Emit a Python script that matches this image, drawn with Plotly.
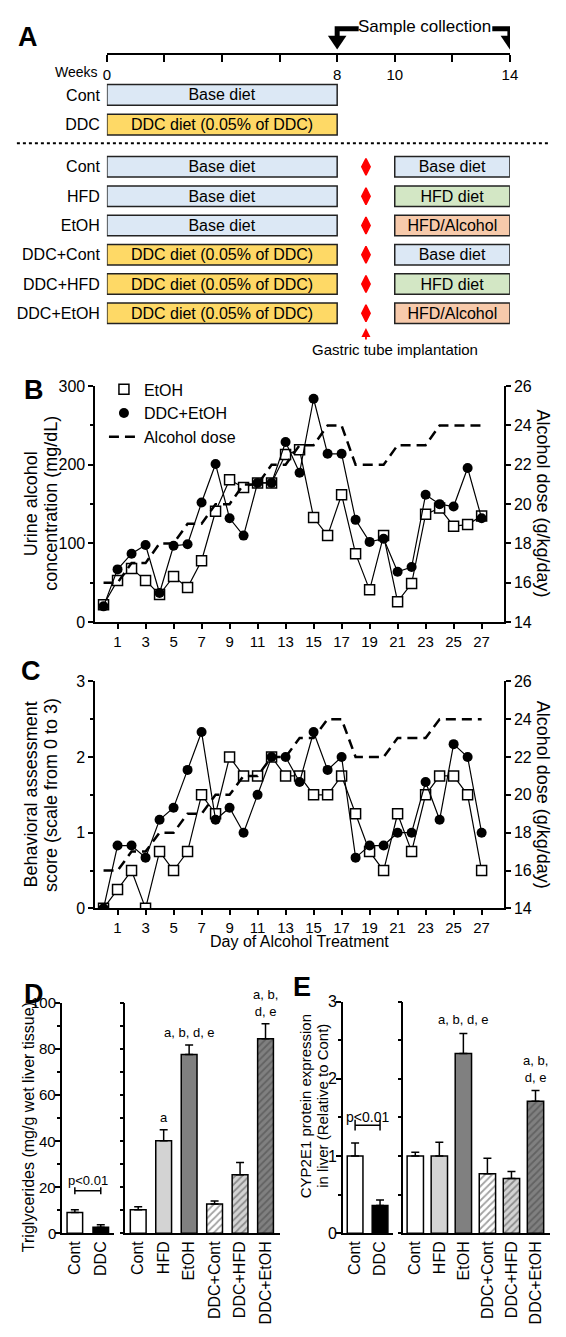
import plotly.graph_objects as go

PAGE_W, PAGE_H = 566, 1337
OFF = 8  # default page margin around the plot
W, H = PAGE_W - 2 * OFF, PAGE_H - 2 * OFF
FONT = "Liberation Sans, Arial, Helvetica, sans-serif"


def fx(px):
    return min(max((px - OFF) / W, 0), 1)


def fy(py):
    return min(max(1 - (py - OFF) / H, 0), 1)


# ---------------- Panel A data ----------------
week_ticks = [0, 2, 4, 6, 8, 10, 12, 14]
week_ticktext = ["0", "", "", "", "8", "10", "", "14"]
sample_weeks = [8, 14]
phase1_weeks = [0, 8]
phase2_weeks = [10, 14]
gastric_week = 9

a_top_groups = ["Cont", "DDC"]
a_top_diets = ["Base diet", "DDC diet (0.05% of DDC)"]
a_groups = ["Cont", "HFD", "EtOH", "DDC+Cont", "DDC+HFD", "DDC+EtOH"]
a_phase1_diets = ["Base diet", "Base diet", "Base diet",
                  "DDC diet (0.05% of DDC)", "DDC diet (0.05% of DDC)", "DDC diet (0.05% of DDC)"]
a_phase2_diets = ["Base diet", "HFD diet", "HFD/Alcohol", "Base diet", "HFD diet", "HFD/Alcohol"]
diet_colors = {"Base diet": "#dce8f5", "DDC diet (0.05% of DDC)": "#fed966",
               "HFD diet": "#d3e7c5", "HFD/Alcohol": "#f7caab"}

# ---------------- Panel B / C data ----------------
days = list(range(28))
day_ticks = list(range(1, 28, 2))
b_etoh = [22, 53, 68, 53, 35, 58, 44, 78, 141, 181, 171, 177, 177, 213, 219, 133, 110, 162,
          87, 41, 110, 26, 49, 137, 145, 122, 124, 135]
b_ddc_etoh = [20, 67, 87, 98, 37, 97, 99, 152, 201, 132, 110, 177, 177, 229, 190, 284, 214, 214,
              130, 102, 106, 64, 70, 162, 150, 147, 196, 132]
alcohol_dose = [16, 16, 17, 17, 18, 18, 19, 19, 20, 20, 21, 21, 22, 22, 23, 23, 24, 24,
                22, 22, 22, 23, 23, 23, 24, 24, 24, 24]
c_etoh = [0, 0.25, 0.5, 0, 0.75, 0.5, 0.75, 1.5, 1.25, 2.0, 1.75, 1.75, 2.0, 1.75, 1.75, 1.5, 1.5,
          1.75, 1.25, 0.75, 0.5, 1.25, 0.75, 1.5, 1.75, 1.75, 1.5, 0.5]
c_ddc_etoh = [0, 0.83, 0.83, 0.67, 1.17, 1.33, 1.83, 2.33, 1.17, 1.33, 1.0, 1.5, 2.0, 2.0, 1.67,
              2.33, 1.83, 2.0, 0.67, 0.83, 0.83, 1.0, 1.0, 1.67, 1.17, 2.17, 2.0, 1.0]

# ---------------- Panel D / E data ----------------
left_groups = ["Cont", "DDC"]
left_colors = ["white", "black"]
right_groups = ["Cont", "HFD", "EtOH", "DDC+Cont", "DDC+HFD", "DDC+EtOH"]
right_colors = ["white", "#d3d3d3", "#808080", "white", "#d3d3d3", "#808080"]
right_patterns = ["", "", "", "/", "/", "/"]

d_ticks = [0, 20, 40, 60, 80, 100]
d_left_mean = [9.0, 2.6]
d_left_err = [1.1, 1.0]
d_right_mean = [10.1, 40.1, 77.6, 12.6, 25.3, 84.4]
d_right_err = [1.3, 4.8, 4.1, 1.4, 5.4, 6.5]
d_right_sig = ["", "a", "a, b, d, e", "", "", "a, b,<br>d, e"]

e_ticks = [0, 1, 2, 3]
e_left_mean = [1.0, 0.36]
e_left_err = [0.17, 0.07]
e_right_mean = [1.0, 1.0, 2.33, 0.77, 0.71, 1.71]
e_right_err = [0.05, 0.18, 0.26, 0.20, 0.09, 0.14]
e_right_sig = ["", "", "a, b, d, e", "", "", "a, b,<br>d, e"]

fig = go.Figure()

# ---------------- Panel A ----------------
def diet_bar(groups, diets, weeks, xa, ya):
    n = len(groups)
    return go.Bar(
        orientation="h", y=groups, x=[weeks[1] - weeks[0]] * n, base=[weeks[0]] * n, width=0.7,
        marker=dict(color=[diet_colors[d] for d in diets], line=dict(color="#222", width=1.5)),
        text=diets, textposition="inside", insidetextanchor="middle", textangle=0,
        constraintext="none", textfont=dict(size=16, color="black", family=FONT),
        hoverinfo="skip", showlegend=False, xaxis=xa, yaxis=ya)


fig.add_trace(diet_bar(a_top_groups, a_top_diets, phase1_weeks, "x", "y"))
fig.add_trace(diet_bar(a_groups, a_phase1_diets, phase1_weeks, "x2", "y2"))
fig.add_trace(diet_bar(a_groups, a_phase2_diets, phase2_weeks, "x2", "y2"))

fig.add_trace(go.Scatter(
    x=[gastric_week] * len(a_groups), y=a_groups, mode="markers",
    marker=dict(symbol="diamond-tall", size=12, color="#ff0000", line=dict(color="#ff0000", width=1.5)),
    hoverinfo="skip", showlegend=False, xaxis="x2", yaxis="y2"))

# timeline axis carrier
fig.add_trace(go.Scatter(x=week_ticks, y=[0] * len(week_ticks), mode="markers",
                         marker=dict(size=1, opacity=0), hoverinfo="skip", showlegend=False,
                         xaxis="x3", yaxis="y3"))

# ---------------- Panel B ----------------
sq_marker = dict(symbol="square", size=10, color="white", line=dict(color="black", width=1.5))
ci_marker = dict(symbol="circle", size=10, color="black")
dose_line = dict(color="black", width=2.5, dash="10px,6px")

fig.add_trace(go.Scatter(x=days, y=b_etoh, mode="lines+markers", line=dict(color="black", width=1.2),
                         marker=sq_marker, showlegend=False, xaxis="x4", yaxis="y4"))
fig.add_trace(go.Scatter(x=days, y=b_ddc_etoh, mode="lines+markers", line=dict(color="black", width=1.2),
                         marker=ci_marker, showlegend=False, xaxis="x4", yaxis="y4"))
fig.add_trace(go.Scatter(x=[None], y=[None], mode="markers", name="EtOH", legendrank=1,
                         marker=sq_marker, xaxis="x4", yaxis="y4"))
fig.add_trace(go.Scatter(x=[None], y=[None], mode="markers", name="DDC+EtOH", legendrank=2,
                         marker=ci_marker, xaxis="x4", yaxis="y4"))
fig.add_trace(go.Scatter(x=days, y=alcohol_dose, mode="lines", name="Alcohol dose", legendrank=3,
                         line=dose_line, xaxis="x4", yaxis="y5"))

# ---------------- Panel C ----------------
fig.add_trace(go.Scatter(x=days, y=c_etoh, mode="lines+markers", line=dict(color="black", width=1.2),
                         marker=sq_marker, showlegend=False, xaxis="x5", yaxis="y6"))
fig.add_trace(go.Scatter(x=days, y=c_ddc_etoh, mode="lines+markers", line=dict(color="black", width=1.2),
                         marker=ci_marker, showlegend=False, xaxis="x5", yaxis="y6"))
fig.add_trace(go.Scatter(x=days, y=alcohol_dose, mode="lines", showlegend=False,
                         line=dose_line, xaxis="x5", yaxis="y7"))


# ---------------- Panels D / E bars ----------------
def bar(groups, means, errs, colors, patterns, width, xa, ya):
    return go.Bar(
        x=groups, y=means, width=width,
        error_y=dict(type="data", array=errs, arrayminus=[0] * len(errs), symmetric=False,
                     color="black", thickness=1.5, width=4),
        marker=dict(color=colors, line=dict(color="black", width=1.5),
                    pattern=dict(shape=patterns, fgcolor="black", fillmode="overlay",
                                 size=5, solidity=0.35)),
        hoverinfo="skip", showlegend=False, xaxis=xa, yaxis=ya)


fig.add_trace(bar(left_groups, d_left_mean, d_left_err, left_colors, ["", ""], 0.6, "x6", "y8"))
fig.add_trace(bar(right_groups, d_right_mean, d_right_err, right_colors, right_patterns, 0.62, "x7", "y9"))
fig.add_trace(bar(left_groups, e_left_mean, e_left_err, left_colors, ["", ""], 0.63, "x8", "y10"))
fig.add_trace(bar(right_groups, e_right_mean, e_right_err, right_colors, right_patterns, 0.68, "x9", "y11"))

# ---------------- Axes ----------------
base_ax = dict(showline=True, linecolor="black", linewidth=1.5, ticks="outside", tickcolor="black",
               tickwidth=1.5, ticklen=5, showgrid=False, zeroline=False,
               tickfont=dict(size=16, color="black", family=FONT))
cat_y = dict(type="category", showline=False, ticks="", showgrid=False, zeroline=False,
             ticklabelstandoff=6, tickfont=dict(size=16, color="black", family=FONT))


def with_font(d, size):
    return {**d, "tickfont": dict(size=size, color="black", family=FONT)}


def minor_ticks(vals):
    return dict(tickvals=vals, ticks="outside", ticklen=3, tickcolor="black")


bc_x_dom = [fx(93), fx(511)]
fig.update_layout(
    xaxis=dict(domain=[fx(105), fx(517)], range=[0, 14], visible=False, anchor="y"),
    yaxis=dict(domain=[fy(133), fy(73)], anchor="x", categoryorder="array",
               categoryarray=a_top_groups, range=[1.5, -0.5], **cat_y),
    xaxis2=dict(domain=[fx(105), fx(517)], range=[0, 14], visible=False, anchor="y2"),
    yaxis2=dict(domain=[fy(324), fy(146)], anchor="x2", categoryorder="array",
                categoryarray=a_groups, range=[5.5, -0.5], **cat_y),
    xaxis3=dict(domain=[fx(105), fx(517)], range=[0, 14], anchor="y3",
                showline=True, linecolor="black", linewidth=2, ticks="outside", ticklen=7,
                tickwidth=2, tickcolor="black", tickvals=week_ticks, ticktext=week_ticktext,
                showgrid=False, zeroline=False, tickfont=dict(size=15, color="black", family=FONT)),
    yaxis3=dict(domain=[fy(45), fy(44)], anchor="x3", visible=False, range=[0, 1]),

    xaxis4=dict(domain=bc_x_dom, range=[-0.6, 28.6], anchor="y4", tickvals=day_ticks,
                **with_font(base_ax, 15)),
    yaxis4=dict(domain=[fy(622), fy(383)], range=[0, 300], anchor="x4", tickvals=[0, 100, 200, 300],
                minor=minor_ticks([50, 150, 250]), **base_ax),
    yaxis5=dict(overlaying="y4", side="right", anchor="x4", range=[14, 26], dtick=2, **base_ax),

    xaxis5=dict(domain=bc_x_dom, range=[-0.6, 28.6], anchor="y6", tickvals=day_ticks,
                **with_font(base_ax, 15)),
    yaxis6=dict(domain=[fy(912), fy(682)], range=[0, 3], anchor="x5", tickvals=[0, 1, 2, 3],
                minor=minor_ticks([0.5, 1.5, 2.5]), **base_ax),
    yaxis7=dict(overlaying="y6", side="right", anchor="x5", range=[14, 26], dtick=2, **base_ax),

    # panel D
    xaxis6=dict(domain=[fx(59), fx(112)], anchor="y8", tickangle=-90, **{**base_ax, "ticks": ""}),
    yaxis8=dict(domain=[fy(1241), fy(1007.7)], range=[0, 100], anchor="x6",
                tickvals=d_ticks, minor=minor_ticks([10, 30, 50, 70, 90]),
                **{**base_ax, "showticklabels": False}),
    xaxis7=dict(domain=[fx(124), fx(282)], anchor="y9", tickangle=-90, **{**base_ax, "ticks": ""}),
    yaxis9=dict(domain=[fy(1241), fy(1007.7)], range=[0, 100], anchor="x7", dtick=10,
                **{**base_ax, "ticklen": 4, "showticklabels": False}),

    # panel E
    xaxis8=dict(domain=[fx(346), fx(397)], anchor="y10", tickangle=-90, **{**base_ax, "ticks": ""}),
    yaxis10=dict(domain=[fy(1241), fy(1006.7)], range=[0, 3], anchor="x8",
                 tickvals=e_ticks, minor=minor_ticks([0.5, 1.5, 2.5]),
                 **{**base_ax, "showticklabels": False}),
    xaxis9=dict(domain=[fx(408), fx(562)], anchor="y11", tickangle=-90, **{**base_ax, "ticks": ""}),
    yaxis11=dict(domain=[fy(1241), fy(1006.7)], range=[0, 3], anchor="x9", dtick=0.5,
                 **{**base_ax, "ticklen": 4, "showticklabels": False}),
)

# ---------------- Shapes ----------------
shapes = []
shapes.append(dict(type="line", xref="paper", yref="paper", x0=fx(13), x1=fx(566), y0=fy(137), y1=fy(137),
                   line=dict(color="black", width=2, dash="dot")))
px_per_week = (517 - 105) / 14
for wk, direction in zip(sample_weeks, [1, -1]):
    bar_len = (22 if direction == 1 else 18) / px_per_week
    x_start = wk + direction * bar_len
    shapes.append(dict(type="path", xref="x3", yref="paper",
                       path=f"M {x_start},{fy(21)} L {wk},{fy(21)} L {wk},{fy(31)}",
                       line=dict(color="black", width=5)))
    hw = 9.5 / px_per_week
    shapes.append(dict(type="path", xref="x3", yref="paper",
                       path=f"M {wk - hw},{fy(28)} L {wk + hw},{fy(28)} L {wk},{fy(42)} Z",
                       fillcolor="black", line=dict(width=0)))


def bracket(xa, ya, yv, cap):
    out = [dict(type="line", xref=xa, yref=ya, x0=0, x1=1, y0=yv, y1=yv, line=dict(color="black", width=1.5))]
    for xv in (0, 1):
        out.append(dict(type="line", xref=xa, yref=ya, x0=xv, x1=xv, y0=yv - cap, y1=yv + cap,
                        line=dict(color="black", width=1.5)))
    return out


shapes += bracket("x6", "y8", 18.4, 1.5)
shapes += bracket("x8", "y10", 1.40, 0.07)
fig.update_layout(shapes=shapes)

# ---------------- Annotations ----------------
ann = []


def txt(text, x, y, size, xref="paper", yref="paper", angle=0, bold=False, **kw):
    d = dict(text=f"<b>{text}</b>" if bold else text, x=x, y=y, xref=xref, yref=yref,
             showarrow=False, textangle=angle, xanchor="center", yanchor="middle",
             font=dict(size=size, color="black", family=FONT))
    d.update(kw)
    ann.append(d)


# value-axis tick labels of panels D and E (placed at the tick values of their axes)
for v in d_ticks:
    txt(str(v), fx(55), v, 15, yref="y8", xanchor="right")
for v in e_ticks:
    txt(str(v), fx(342), v, 16, yref="y10", xanchor="right")

# panel letters
txt("A", fx(24), fy(29), 27, bold=True)
txt("B", fx(30), fy(387), 27, bold=True)
txt("C", fx(27), fy(672), 27, bold=True)
txt("D", fx(31), fy(999), 27, bold=True)
txt("E", fx(304), fy(992), 27, bold=True)

# panel A texts
txt("Weeks", fx(98), fy(65), 14, xanchor="right")
txt("Sample collection", fx(430), fy(19), 17)
txt("Gastric tube implantation", fx(400), fy(346), 15)
ann.append(dict(x=gastric_week, y=fy(324), xref="x2", yref="paper", text="", showarrow=True,
                ax=0, ay=13, arrowhead=2, arrowsize=1, arrowwidth=1.8, arrowcolor="#ff0000"))

# panel B/C titles
txt("Urine alcohol", fx(27), fy(502), 18, angle=-90)
txt("concentration (mg/dL)", fx(48), fy(502), 18, angle=-90)
txt("Alcohol dose (g/kg/day)", fx(551), fy(502), 18, angle=90)
txt("Behavioral assessment", fx(27), fy(797), 18, angle=-90)
txt("score (scale from 0 to 3)", fx(48), fy(797), 18, angle=-90)
txt("Alcohol dose (g/kg/day)", fx(551), fy(797), 18, angle=90)
txt("Day of Alcohol Treatment", fx(302), fy(946), 16)

# panel D/E titles
txt("Triglycerides (mg/g wet liver tissue)", fx(25), fy(1134), 16, angle=-90)
txt("CYP2E1 protein expression", fx(308), fy(1112), 15, angle=-90)
txt("in liver (Relative to Cont)", fx(326), fy(1112), 15, angle=-90)

# significance labels
txt("p<0.01", 0.5, 22.7, 13, xref="x6", yref="y8")
txt("p<0.01", 0.5, 1.51, 14, xref="x8", yref="y10")
for g, m, e, s in zip(right_groups, d_right_mean, d_right_err, d_right_sig):
    if s:
        txt(s, g, m + e, 13, xref="x7", yref="y9", yanchor="bottom", yshift=3)
for g, m, e, s in zip(right_groups, e_right_mean, e_right_err, e_right_sig):
    if s:
        txt(s, g, m + e, 13, xref="x9", yref="y11", yanchor="bottom", yshift=4)

fig.update_layout(
    annotations=ann,
    width=W, height=H, margin=dict(l=0, r=0, t=0, b=0),
    paper_bgcolor="white", plot_bgcolor="white",
    font=dict(family=FONT, color="black"),
    barmode="overlay",
    showlegend=True,
    legend=dict(x=fx(102), y=fy(369), xanchor="left", yanchor="top", bgcolor="rgba(0,0,0,0)",
                font=dict(size=16, color="black", family=FONT), tracegroupgap=0, itemwidth=30),
)

fig.write_html("out.html", config={"displayModeBar": False})
